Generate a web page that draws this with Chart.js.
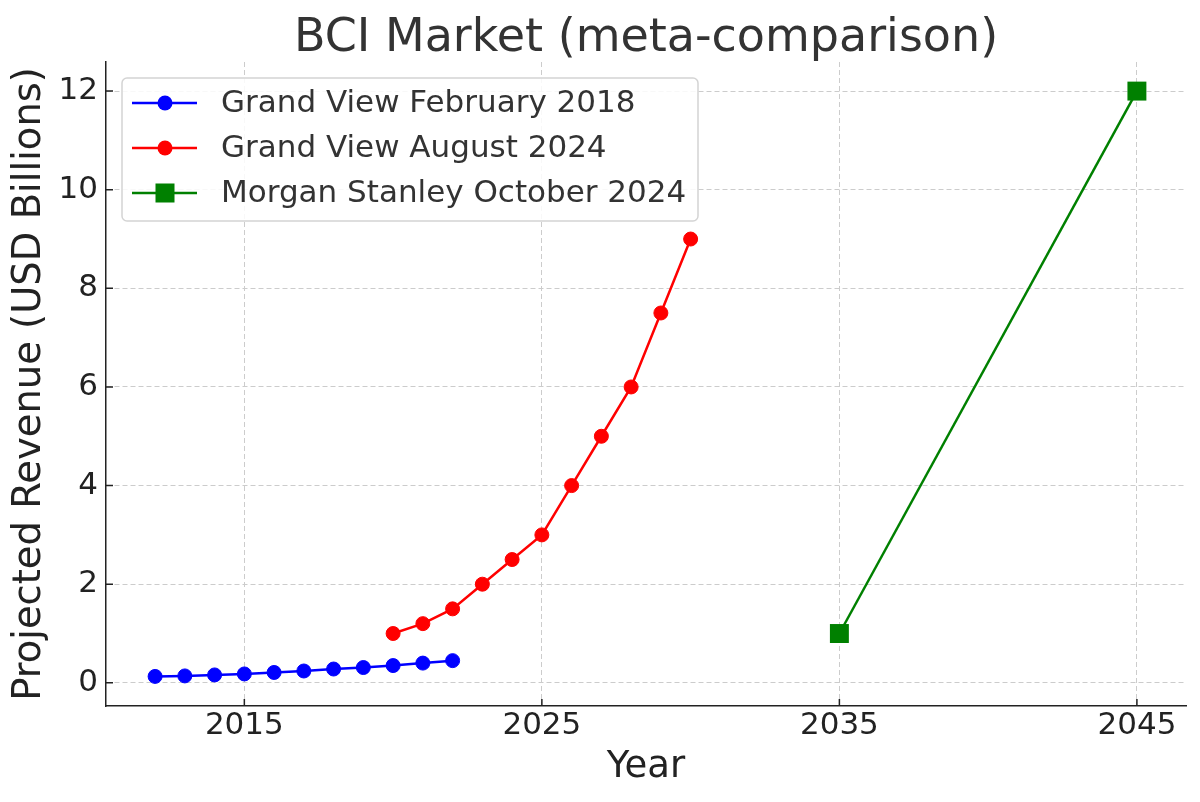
<!DOCTYPE html>
<html>
<head>
<meta charset="utf-8">
<title>BCI Market (meta-comparison)</title>
<script src="https://cdn.jsdelivr.net/npm/chart.js@4.4.1/dist/chart.umd.min.js"></script>
<style>
  html, body { margin: 0; padding: 0; background: #fff; }
  #wrap { width: 1200px; height: 802px; position: relative; }
</style>
</head>
<body>
<div id="wrap"><canvas id="bciChart"></canvas></div>
<script>
// ---- data ----
const gvFebYears = [2012, 2013, 2014, 2015, 2016, 2017, 2018, 2019, 2020, 2021, 2022];
const gvFebValues = [0.13, 0.14, 0.16, 0.18, 0.21, 0.24, 0.28, 0.31, 0.35, 0.40, 0.45];

const gvAugYears = [2020, 2021, 2022, 2023, 2024, 2025, 2026, 2027, 2028, 2029, 2030];
const gvAugValues = [1.0, 1.2, 1.5, 2.0, 2.5, 3.0, 4.0, 5.0, 6.0, 7.5, 9.0];

const msYears = [2035, 2045];
const msValues = [1, 12];

const chartTitle = 'BCI Market (meta-comparison)';
const seriesLabels = ['Grand View February 2018', 'Grand View August 2024', 'Morgan Stanley October 2024'];
const xTicks = [2015, 2025, 2035, 2045];
const yTicks = [0, 2, 4, 6, 8, 10, 12];

// axis limits (matplotlib-style 5% margins)
const xMin = 2010.35, xMax = 2046.65;
const yMin = -0.47, yMax = 12.59;

const FONT = 'DejaVu Sans';
Chart.defaults.font.family = FONT;

function toPoints(xs, ys) {
  return xs.map((x, i) => ({ x: x, y: ys[i] }));
}

// title centred over the axes, matplotlib-like legend box, inward tick marks
const extrasPlugin = {
  id: 'extras',
  afterDraw(chart) {
    const ctx = chart.ctx;
    const area = chart.chartArea;
    const xs = chart.scales.x, ys = chart.scales.y;

    // title
    ctx.save();
    ctx.fillStyle = '#333';
    ctx.font = '46px "' + FONT + '"';
    ctx.textAlign = 'center';
    ctx.textBaseline = 'alphabetic';
    ctx.fillText(chartTitle, (area.left + area.right) / 2, 51);
    ctx.restore();

    // inward ticks
    ctx.save();
    ctx.strokeStyle = '#222';
    ctx.lineWidth = 1.5;
    ctx.beginPath();
    xTicks.forEach(v => {
      const px = xs.getPixelForValue(v);
      ctx.moveTo(px, area.bottom);
      ctx.lineTo(px, area.bottom - 7);
    });
    yTicks.forEach(v => {
      const py = ys.getPixelForValue(v);
      ctx.moveTo(area.left, py);
      ctx.lineTo(area.left + 7, py);
    });
    ctx.stroke();
    ctx.restore();

    // legend
    const bx = 122, by = 78, bw = 576, bh = 143, r = 5;
    ctx.save();
    ctx.beginPath();
    ctx.moveTo(bx + r, by);
    ctx.arcTo(bx + bw, by, bx + bw, by + bh, r);
    ctx.arcTo(bx + bw, by + bh, bx, by + bh, r);
    ctx.arcTo(bx, by + bh, bx, by, r);
    ctx.arcTo(bx, by, bx + bw, by, r);
    ctx.closePath();
    ctx.fillStyle = 'rgba(255,255,255,0.85)';
    ctx.fill();
    ctx.strokeStyle = '#d4d4d4';
    ctx.lineWidth = 1.5;
    ctx.stroke();

    chart.data.datasets.forEach((ds, i) => {
      const cy = 103 + i * 45;
      ctx.strokeStyle = ds.borderColor;
      ctx.lineWidth = ds.borderWidth;
      ctx.beginPath();
      ctx.moveTo(132, cy);
      ctx.lineTo(197, cy);
      ctx.stroke();
      ctx.fillStyle = ds.pointBackgroundColor;
      if (ds.pointStyle === 'rect') {
        ctx.fillRect(165 - 9.5, cy - 9.5, 19, 19);
      } else {
        ctx.beginPath();
        ctx.arc(165, cy, 7.5, 0, Math.PI * 2);
        ctx.fill();
      }
      ctx.fillStyle = '#333';
      ctx.font = '31px "' + FONT + '"';
      ctx.textBaseline = 'middle';
      ctx.textAlign = 'left';
      ctx.fillText(ds.label, 221, cy + 1);
    });
    ctx.restore();
  }
};

new Chart(document.getElementById('bciChart'), {
  type: 'line',
  data: {
    datasets: [
      {
        label: seriesLabels[0],
        data: toPoints(gvFebYears, gvFebValues),
        borderColor: '#0000ff',
        backgroundColor: '#0000ff',
        pointBackgroundColor: '#0000ff',
        pointBorderColor: '#0000ff',
        borderWidth: 2.5,
        pointRadius: 7,
        pointBorderWidth: 1,
        pointStyle: 'circle',
        tension: 0
      },
      {
        label: seriesLabels[1],
        data: toPoints(gvAugYears, gvAugValues),
        borderColor: '#ff0000',
        backgroundColor: '#ff0000',
        pointBackgroundColor: '#ff0000',
        pointBorderColor: '#ff0000',
        borderWidth: 2.5,
        pointRadius: 7,
        pointBorderWidth: 1,
        pointStyle: 'circle',
        tension: 0
      },
      {
        label: seriesLabels[2],
        data: toPoints(msYears, msValues),
        borderColor: '#008000',
        backgroundColor: '#008000',
        pointBackgroundColor: '#008000',
        pointBorderColor: '#008000',
        borderWidth: 2.5,
        pointRadius: 13.4,
        pointBorderWidth: 0,
        pointStyle: 'rect',
        tension: 0
      }
    ]
  },
  options: {
    responsive: true,
    maintainAspectRatio: false,
    animation: false,
    devicePixelRatio: 1,
    layout: { padding: { left: 0, right: 14, top: 62, bottom: 0 } },
    plugins: {
      legend: { display: false },
      tooltip: { enabled: false },
      title: { display: false }
    },
    scales: {
      x: {
        type: 'linear',
        min: xMin,
        max: xMax,
        afterBuildTicks: s => { s.ticks = xTicks.map(v => ({ value: v })); },
        afterFit: s => { s.height = 96; },
        ticks: {
          color: '#222',
          font: { family: FONT, size: 31 },
          padding: 1,
          maxRotation: 0,
          callback: v => String(v)
        },
        grid: { color: '#cccccc', lineWidth: 1, drawTicks: false },
        border: { display: true, color: '#222', width: 1.5, dash: [5, 3] },
        title: {
          display: true,
          text: 'Year',
          color: '#222',
          font: { family: FONT, size: 37 },
          padding: { top: 0, bottom: 12 }
        }
      },
      y: {
        type: 'linear',
        min: yMin,
        max: yMax,
        afterBuildTicks: s => { s.ticks = yTicks.map(v => ({ value: v })); },
        afterFit: s => { s.width = 106; },
        ticks: {
          color: '#222',
          font: { family: FONT, size: 31 },
          padding: 8,
          callback: v => String(v)
        },
        grid: { color: '#cccccc', lineWidth: 1, drawTicks: false },
        border: { display: true, color: '#222', width: 1.5, dash: [5, 3] },
        title: {
          display: true,
          text: 'Projected Revenue (USD Billions)',
          color: '#222',
          font: { family: FONT, size: 38.5 },
          padding: { top: 7, bottom: 0 }
        }
      }
    }
  },
  plugins: [extrasPlugin]
});
</script>
</body>
</html>
